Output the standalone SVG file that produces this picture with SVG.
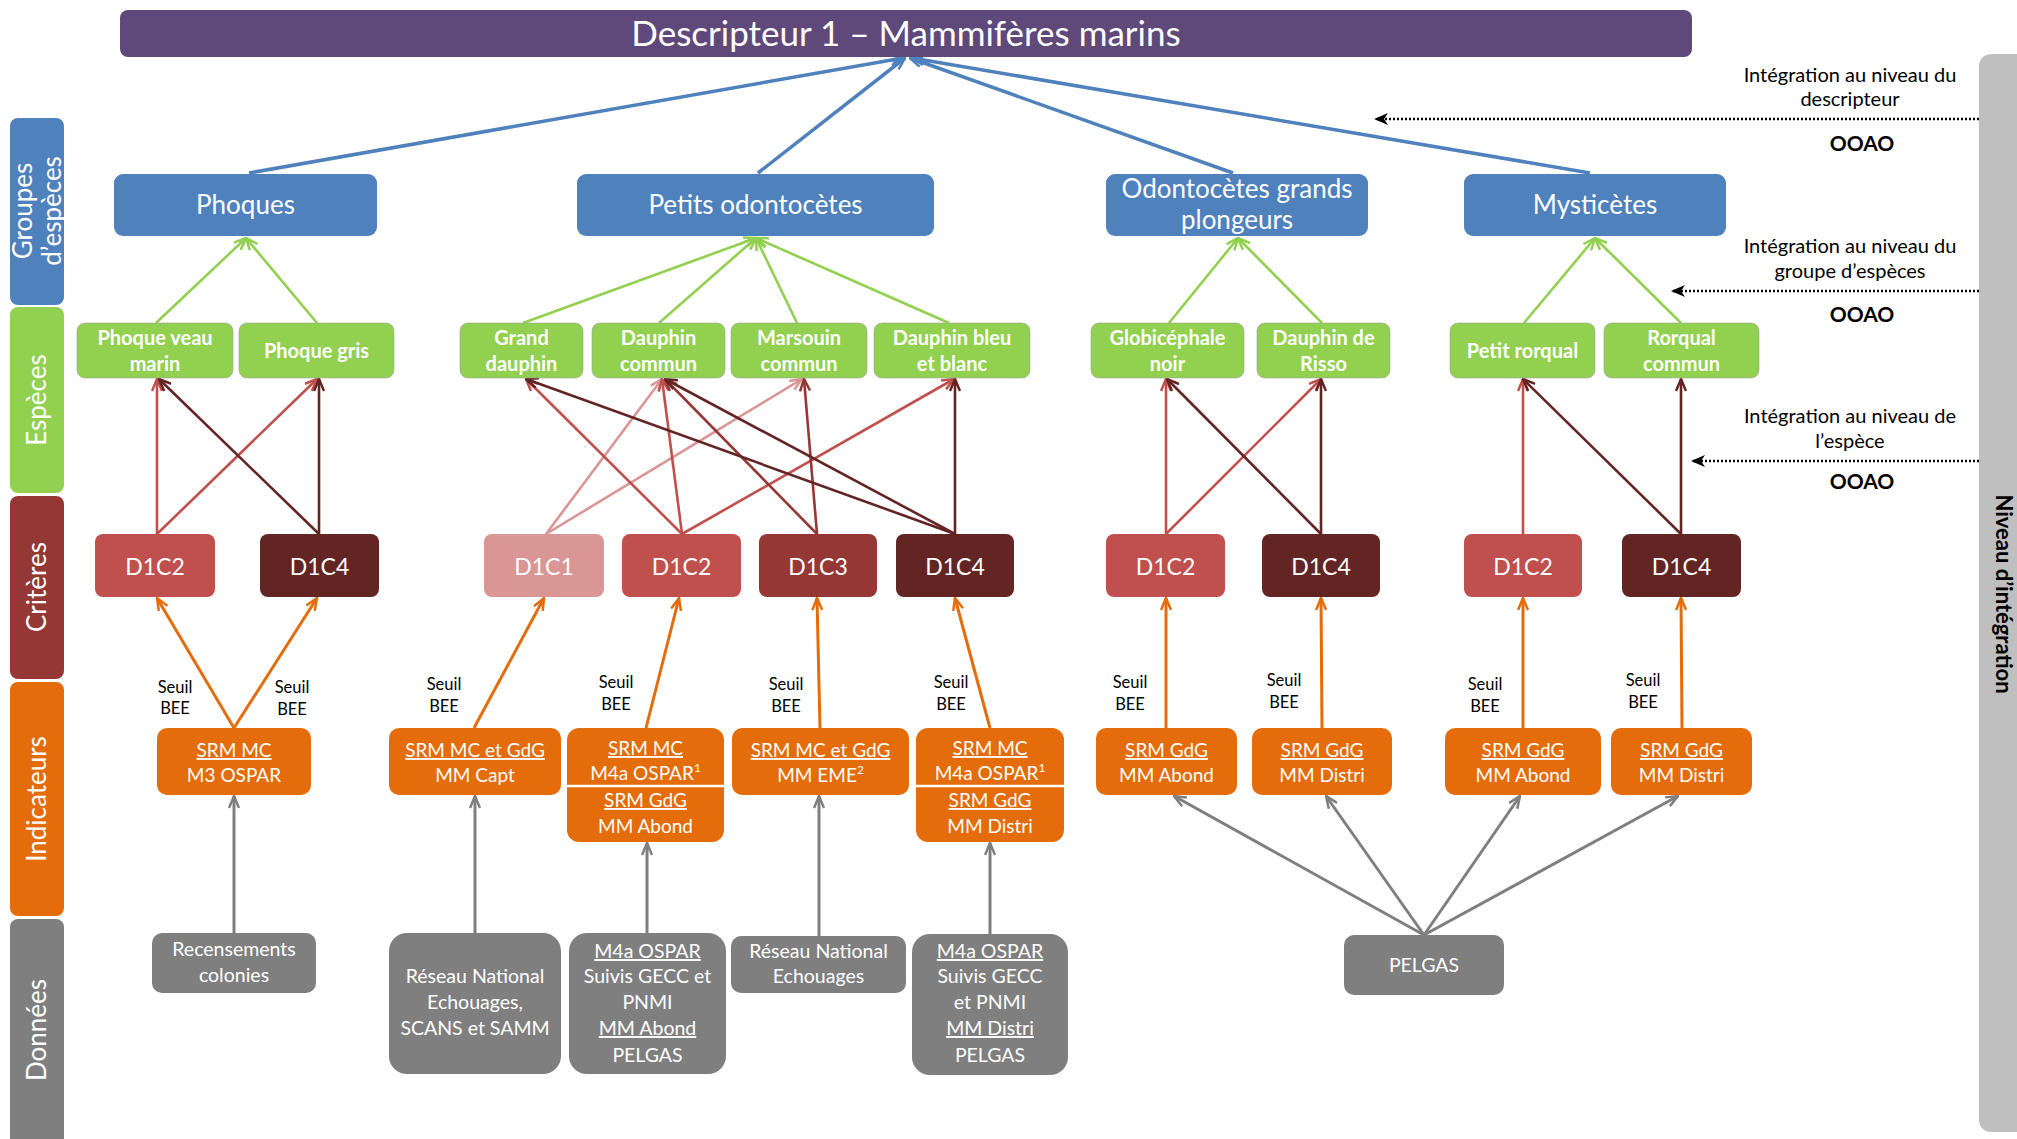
<svg xmlns="http://www.w3.org/2000/svg" width="2017" height="1139" viewBox="0 0 2017 1139">
<style>
text { font-family: Lato, "Liberation Sans", sans-serif; }
.w { fill: #ffffff; }
.m { text-anchor: middle; }
.k { fill: #000000; }
.ttl { font-size: 35px; }
.grp { font-size: 26px; }
.sp { font-size: 20px; font-weight: bold; }
.cr { font-size: 23px; }
.ind { font-size: 19px; }
.dat { font-size: 19.5px; }
.seuil { font-size: 16.5px; }
.ann { font-size: 20px; }
.ooao { font-size: 21px; font-weight: bold; }
.side { font-size: 26px; }
.u { text-decoration: underline; }
.gb { fill: #4f81bd; }
.gs { fill: #92d050; stroke: #a0a0a0; stroke-width: 0.6; }
.c1 { fill: #d99694; }
.c2 { fill: #c0504d; }
.c3 { fill: #953735; }
.c4 { fill: #632523; }
.or { fill: #e46c0a; }
.gr { fill: #7f7f7f; }
.lb { stroke: #4f81bd; stroke-width: 3.5; fill: none; marker-end: url(#mBlue); }
.lg { stroke: #92d050; stroke-width: 2.6; fill: none; marker-end: url(#mGreen); }
.l1 { stroke: #d99694; stroke-width: 2.6; fill: none; marker-end: url(#m1); }
.l2 { stroke: #c0504d; stroke-width: 2.6; fill: none; marker-end: url(#m2); }
.l3 { stroke: #953735; stroke-width: 2.6; fill: none; marker-end: url(#m3); }
.l4 { stroke: #632523; stroke-width: 2.6; fill: none; marker-end: url(#m4); }
.lo { stroke: #e46c0a; stroke-width: 3; fill: none; marker-end: url(#mOr); }
.lgr { stroke: #7f7f7f; stroke-width: 3; fill: none; marker-end: url(#mGr); }
.ld { stroke: #000000; stroke-width: 2.5; stroke-dasharray: 2 2; fill: none; marker-end: url(#mBk); }
</style>
<defs>
<marker id="mBlue" viewBox="0 0 14 12" refX="13" refY="6" markerWidth="14" markerHeight="12" markerUnits="userSpaceOnUse" orient="auto"><path d="M1,1 L13,6 L1,11" fill="none" stroke="#4f81bd" stroke-width="2.5"/></marker>
<marker id="mGreen" viewBox="0 0 14 12" refX="13" refY="6" markerWidth="14" markerHeight="12" markerUnits="userSpaceOnUse" orient="auto"><path d="M1,1 L13,6 L1,11" fill="none" stroke="#92d050" stroke-width="2.5"/></marker>
<marker id="m1" viewBox="0 0 14 12" refX="13" refY="6" markerWidth="14" markerHeight="12" markerUnits="userSpaceOnUse" orient="auto"><path d="M1,1 L13,6 L1,11" fill="none" stroke="#d99694" stroke-width="2.5"/></marker>
<marker id="m2" viewBox="0 0 14 12" refX="13" refY="6" markerWidth="14" markerHeight="12" markerUnits="userSpaceOnUse" orient="auto"><path d="M1,1 L13,6 L1,11" fill="none" stroke="#c0504d" stroke-width="2.5"/></marker>
<marker id="m3" viewBox="0 0 14 12" refX="13" refY="6" markerWidth="14" markerHeight="12" markerUnits="userSpaceOnUse" orient="auto"><path d="M1,1 L13,6 L1,11" fill="none" stroke="#953735" stroke-width="2.5"/></marker>
<marker id="m4" viewBox="0 0 14 12" refX="13" refY="6" markerWidth="14" markerHeight="12" markerUnits="userSpaceOnUse" orient="auto"><path d="M1,1 L13,6 L1,11" fill="none" stroke="#632523" stroke-width="2.5"/></marker>
<marker id="mOr" viewBox="0 0 14 12" refX="13" refY="6" markerWidth="14" markerHeight="12" markerUnits="userSpaceOnUse" orient="auto"><path d="M1,1 L13,6 L1,11" fill="none" stroke="#e46c0a" stroke-width="2.5"/></marker>
<marker id="mGr" viewBox="0 0 14 12" refX="13" refY="6" markerWidth="14" markerHeight="12" markerUnits="userSpaceOnUse" orient="auto"><path d="M1,1 L13,6 L1,11" fill="none" stroke="#7f7f7f" stroke-width="2.5"/></marker>
<marker id="mBk" viewBox="0 0 14 12" refX="13" refY="6" markerWidth="14" markerHeight="12" markerUnits="userSpaceOnUse" orient="auto"><path d="M0,0 L14,6 L0,12 L4,6 z" fill="#000000"/></marker>
</defs>
<rect x="0" y="0" width="2017" height="1139" fill="#ffffff"/>

<!-- Left side level labels -->
<g id="side-labels">
<rect x="10" y="118" width="54" height="187" rx="8" fill="#4f81bd"/>
<rect x="10" y="307" width="54" height="186" rx="8" fill="#92d050"/>
<rect x="10" y="496" width="54" height="183" rx="8" fill="#953735"/>
<rect x="10" y="682" width="54" height="234" rx="8" fill="#e46c0a"/>
<rect x="10" y="919" width="54" height="230" rx="8" fill="#7f7f7f"/>
<text class="side w m" transform="translate(32,211) rotate(-90)">Groupes</text>
<text class="side w m" transform="translate(61,211) rotate(-90)">d’espèces</text>
<text class="side w m" transform="translate(46,400) rotate(-90)">Espèces</text>
<text class="side w m" transform="translate(46,587) rotate(-90)">Critères</text>
<text class="side w m" transform="translate(46,799) rotate(-90)">Indicateurs</text>
<text class="side w m" transform="translate(46,1030) rotate(-90)">Données</text>
</g>

<!-- Right integration bar -->
<g id="integration-bar">
<rect x="1979" y="54" width="60" height="1078" rx="12" fill="#bfbfbf"/>
<text class="k m" font-size="22" font-weight="bold" transform="translate(1996,594) rotate(90)">Niveau d’intégration</text>
</g>

<!-- Connectors -->
<g id="connectors">
<line class="lb" x1="249" y1="173" x2="903" y2="58"/>
<line class="lb" x1="758" y1="173" x2="905" y2="58"/>
<line class="lb" x1="1233" y1="173" x2="910" y2="58"/>
<line class="lb" x1="1590" y1="173" x2="912" y2="58"/>

<line class="lg" x1="156" y1="323" x2="246" y2="238"/>
<line class="lg" x1="317" y1="323" x2="246" y2="238"/>
<line class="lg" x1="523" y1="323" x2="756" y2="238"/>
<line class="lg" x1="659" y1="323" x2="756" y2="238"/>
<line class="lg" x1="797" y1="323" x2="756" y2="238"/>
<line class="lg" x1="949" y1="323" x2="756" y2="238"/>
<line class="lg" x1="1169" y1="323" x2="1238" y2="238"/>
<line class="lg" x1="1322" y1="323" x2="1238" y2="238"/>
<line class="lg" x1="1524" y1="323" x2="1595" y2="238"/>
<line class="lg" x1="1681" y1="323" x2="1595" y2="238"/>

<line class="l2" x1="157" y1="534" x2="157" y2="379"/>
<line class="l2" x1="157" y1="534" x2="317" y2="379"/>
<line class="l4" x1="319" y1="534" x2="319" y2="379"/>
<line class="l4" x1="319" y1="534" x2="159" y2="379"/>

<line class="l1" x1="546" y1="534" x2="662" y2="379"/>
<line class="l1" x1="546" y1="534" x2="802" y2="379"/>
<line class="l2" x1="682" y1="534" x2="526" y2="379"/>
<line class="l2" x1="682" y1="534" x2="662" y2="379"/>
<line class="l2" x1="682" y1="534" x2="954" y2="379"/>
<line class="l3" x1="817" y1="534" x2="665" y2="379"/>
<line class="l3" x1="817" y1="534" x2="804" y2="379"/>
<line class="l4" x1="955" y1="534" x2="526" y2="379"/>
<line class="l4" x1="955" y1="534" x2="665" y2="379"/>
<line class="l4" x1="955" y1="534" x2="955" y2="379"/>

<line class="l2" x1="1166" y1="534" x2="1166" y2="379"/>
<line class="l2" x1="1166" y1="534" x2="1321" y2="379"/>
<line class="l4" x1="1321" y1="534" x2="1321" y2="379"/>
<line class="l4" x1="1321" y1="534" x2="1167" y2="379"/>
<line class="l2" x1="1523" y1="534" x2="1523" y2="379"/>
<line class="l4" x1="1681" y1="534" x2="1681" y2="379"/>
<line class="l4" x1="1681" y1="534" x2="1523" y2="379"/>

<line class="lo" x1="234" y1="728" x2="157" y2="598"/>
<line class="lo" x1="234" y1="728" x2="317" y2="598"/>
<line class="lo" x1="474" y1="728" x2="544" y2="598"/>
<line class="lo" x1="646" y1="728" x2="679" y2="598"/>
<line class="lo" x1="820" y1="728" x2="817" y2="598"/>
<line class="lo" x1="990" y1="728" x2="955" y2="598"/>
<line class="lo" x1="1166" y1="728" x2="1166" y2="598"/>
<line class="lo" x1="1322" y1="728" x2="1321" y2="598"/>
<line class="lo" x1="1523" y1="728" x2="1523" y2="598"/>
<line class="lo" x1="1682" y1="728" x2="1681" y2="598"/>

<line class="lgr" x1="234" y1="933" x2="234" y2="796"/>
<line class="lgr" x1="475" y1="933" x2="475" y2="796"/>
<line class="lgr" x1="647" y1="933" x2="647" y2="843"/>
<line class="lgr" x1="819" y1="936" x2="819" y2="796"/>
<line class="lgr" x1="990" y1="934" x2="990" y2="843"/>
<line class="lgr" x1="1424" y1="935" x2="1174" y2="796"/>
<line class="lgr" x1="1424" y1="935" x2="1326" y2="796"/>
<line class="lgr" x1="1424" y1="935" x2="1520" y2="796"/>
<line class="lgr" x1="1424" y1="935" x2="1678" y2="796"/>

<line class="ld" x1="1979" y1="119" x2="1375" y2="119"/>
<line class="ld" x1="1979" y1="291" x2="1672" y2="291"/>
<line class="ld" x1="1979" y1="461" x2="1692" y2="461"/>
</g>

<!-- Integration annotations -->
<g id="annotations">
<text class="ann k m" x="1850" y="82">Intégration au niveau du</text>
<text class="ann k m" x="1850" y="106">descripteur</text>
<text class="ooao k m" x="1862" y="151">OOAO</text>
<text class="ann k m" x="1850" y="253">Intégration au niveau du</text>
<text class="ann k m" x="1850" y="278">groupe d’espèces</text>
<text class="ooao k m" x="1862" y="322">OOAO</text>
<text class="ann k m" x="1850" y="423">Intégration au niveau de</text>
<text class="ann k m" x="1850" y="448">l’espèce</text>
<text class="ooao k m" x="1862" y="489">OOAO</text>
</g>

<!-- Title -->
<g id="title">
<rect x="120" y="10" width="1572" height="47" rx="8" fill="#5f497a"/>
<text class="ttl w m" x="906" y="46">Descripteur 1 – Mammifères marins</text>
</g>

<!-- Species groups -->
<g id="grp-phoques"><rect class="gb" x="114" y="174" width="263" height="62" rx="9"/><text class="grp w m" x="245.5" y="214">Phoques</text></g>
<g id="grp-petits"><rect class="gb" x="577" y="174" width="357" height="62" rx="9"/><text class="grp w m" x="755.5" y="214">Petits odontocètes</text></g>
<g id="grp-grands"><rect class="gb" x="1106" y="174" width="262" height="62" rx="9"/><text class="grp w m" x="1237" y="198">Odontocètes grands</text><text class="grp w m" x="1237" y="229">plongeurs</text></g>
<g id="grp-mysticetes"><rect class="gb" x="1464" y="174" width="262" height="62" rx="9"/><text class="grp w m" x="1595" y="214">Mysticètes</text></g>

<!-- Species -->
<g id="sp-phoque-veau"><rect class="gs" x="77" y="323" width="156" height="55" rx="8"/><text class="sp w m" x="155" y="345">Phoque veau</text><text class="sp w m" x="155" y="371">marin</text></g>
<g id="sp-phoque-gris"><rect class="gs" x="239" y="323" width="155" height="55" rx="8"/><text class="sp w m" x="316.5" y="358">Phoque gris</text></g>
<g id="sp-grand-dauphin"><rect class="gs" x="460" y="323" width="123" height="55" rx="8"/><text class="sp w m" x="521.5" y="345">Grand</text><text class="sp w m" x="521.5" y="371">dauphin</text></g>
<g id="sp-dauphin-commun"><rect class="gs" x="592" y="323" width="133" height="55" rx="8"/><text class="sp w m" x="658.5" y="345">Dauphin</text><text class="sp w m" x="658.5" y="371">commun</text></g>
<g id="sp-marsouin"><rect class="gs" x="731" y="323" width="136" height="55" rx="8"/><text class="sp w m" x="799" y="345">Marsouin</text><text class="sp w m" x="799" y="371">commun</text></g>
<g id="sp-dauphin-bleu"><rect class="gs" x="874" y="323" width="156" height="55" rx="8"/><text class="sp w m" x="952" y="345">Dauphin bleu</text><text class="sp w m" x="952" y="371">et blanc</text></g>
<g id="sp-globicephale"><rect class="gs" x="1091" y="323" width="153" height="55" rx="8"/><text class="sp w m" x="1167.5" y="345">Globicéphale</text><text class="sp w m" x="1167.5" y="371">noir</text></g>
<g id="sp-risso"><rect class="gs" x="1257" y="323" width="133" height="55" rx="8"/><text class="sp w m" x="1323.5" y="345">Dauphin de</text><text class="sp w m" x="1323.5" y="371">Risso</text></g>
<g id="sp-petit-rorqual"><rect class="gs" x="1450" y="323" width="145" height="55" rx="8"/><text class="sp w m" x="1522.5" y="358">Petit rorqual</text></g>
<g id="sp-rorqual-commun"><rect class="gs" x="1604" y="323" width="155" height="55" rx="8"/><text class="sp w m" x="1681.5" y="345">Rorqual</text><text class="sp w m" x="1681.5" y="371">commun</text></g>

<!-- Criteria -->
<g id="cr-phoques-d1c2"><rect class="c2" x="95" y="534" width="120" height="63" rx="8"/><text class="cr w m" x="155" y="575">D1C2</text></g>
<g id="cr-phoques-d1c4"><rect class="c4" x="260" y="534" width="119" height="63" rx="8"/><text class="cr w m" x="319.5" y="575">D1C4</text></g>
<g id="cr-petits-d1c1"><rect class="c1" x="484" y="534" width="120" height="63" rx="8"/><text class="cr w m" x="544" y="575">D1C1</text></g>
<g id="cr-petits-d1c2"><rect class="c2" x="622" y="534" width="119" height="63" rx="8"/><text class="cr w m" x="681.5" y="575">D1C2</text></g>
<g id="cr-petits-d1c3"><rect class="c3" x="759" y="534" width="118" height="63" rx="8"/><text class="cr w m" x="818" y="575">D1C3</text></g>
<g id="cr-petits-d1c4"><rect class="c4" x="896" y="534" width="118" height="63" rx="8"/><text class="cr w m" x="955" y="575">D1C4</text></g>
<g id="cr-grands-d1c2"><rect class="c2" x="1106" y="534" width="119" height="63" rx="8"/><text class="cr w m" x="1165.5" y="575">D1C2</text></g>
<g id="cr-grands-d1c4"><rect class="c4" x="1262" y="534" width="118" height="63" rx="8"/><text class="cr w m" x="1321" y="575">D1C4</text></g>
<g id="cr-myst-d1c2"><rect class="c2" x="1464" y="534" width="118" height="63" rx="8"/><text class="cr w m" x="1523" y="575">D1C2</text></g>
<g id="cr-myst-d1c4"><rect class="c4" x="1622" y="534" width="119" height="63" rx="8"/><text class="cr w m" x="1681.5" y="575">D1C4</text></g>

<!-- Seuil BEE labels -->
<g id="seuil-labels">
<text class="seuil k m" x="175" y="693">Seuil</text><text class="seuil k m" x="175" y="714">BEE</text>
<text class="seuil k m" x="292" y="693">Seuil</text><text class="seuil k m" x="292" y="715">BEE</text>
<text class="seuil k m" x="444" y="690">Seuil</text><text class="seuil k m" x="444" y="712">BEE</text>
<text class="seuil k m" x="616" y="688">Seuil</text><text class="seuil k m" x="616" y="710">BEE</text>
<text class="seuil k m" x="786" y="690">Seuil</text><text class="seuil k m" x="786" y="712">BEE</text>
<text class="seuil k m" x="951" y="688">Seuil</text><text class="seuil k m" x="951" y="710">BEE</text>
<text class="seuil k m" x="1130" y="688">Seuil</text><text class="seuil k m" x="1130" y="710">BEE</text>
<text class="seuil k m" x="1284" y="686">Seuil</text><text class="seuil k m" x="1284" y="708">BEE</text>
<text class="seuil k m" x="1485" y="690">Seuil</text><text class="seuil k m" x="1485" y="712">BEE</text>
<text class="seuil k m" x="1643" y="686">Seuil</text><text class="seuil k m" x="1643" y="708">BEE</text>
</g>

<!-- Indicators -->
<g id="ind-m3"><rect class="or" x="157" y="728" width="154" height="67" rx="10"/><text class="ind w m u" x="234" y="757">SRM MC</text><text class="ind w m" x="234" y="782">M3 OSPAR</text></g>
<g id="ind-capt"><rect class="or" x="389" y="728" width="172" height="67" rx="10"/><text class="ind w m u" x="475" y="757">SRM MC et GdG</text><text class="ind w m" x="475" y="782">MM Capt</text></g>
<g id="ind-abond-1"><rect class="or" x="567" y="728" width="157" height="114" rx="12"/><text class="ind w m u" x="645.5" y="755">SRM MC</text><text class="ind w m" x="645.5" y="780">M4a OSPAR<tspan font-size="12" dy="-8">1</tspan></text><line x1="567" y1="786" x2="724" y2="786" stroke="#ffffff" stroke-width="2.5"/><text class="ind w m u" x="645.5" y="807">SRM GdG</text><text class="ind w m" x="645.5" y="833">MM Abond</text></g>
<g id="ind-eme"><rect class="or" x="732" y="728" width="177" height="67" rx="10"/><text class="ind w m u" x="820.5" y="757">SRM MC et GdG</text><text class="ind w m" x="820.5" y="782">MM EME<tspan font-size="12" dy="-8">2</tspan></text></g>
<g id="ind-distri-1"><rect class="or" x="916" y="728" width="148" height="114" rx="12"/><text class="ind w m u" x="990" y="755">SRM MC</text><text class="ind w m" x="990" y="780">M4a OSPAR<tspan font-size="12" dy="-8">1</tspan></text><line x1="916" y1="786" x2="1064" y2="786" stroke="#ffffff" stroke-width="2.5"/><text class="ind w m u" x="990" y="807">SRM GdG</text><text class="ind w m" x="990" y="833">MM Distri</text></g>
<g id="ind-gdg-abond-1"><rect class="or" x="1096" y="728" width="141" height="67" rx="10"/><text class="ind w m u" x="1166.5" y="757">SRM GdG</text><text class="ind w m" x="1166.5" y="782">MM Abond</text></g>
<g id="ind-gdg-distri-1"><rect class="or" x="1252" y="728" width="140" height="67" rx="10"/><text class="ind w m u" x="1322" y="757">SRM GdG</text><text class="ind w m" x="1322" y="782">MM Distri</text></g>
<g id="ind-gdg-abond-2"><rect class="or" x="1445" y="728" width="156" height="67" rx="10"/><text class="ind w m u" x="1523" y="757">SRM GdG</text><text class="ind w m" x="1523" y="782">MM Abond</text></g>
<g id="ind-gdg-distri-2"><rect class="or" x="1611" y="728" width="141" height="67" rx="10"/><text class="ind w m u" x="1681.5" y="757">SRM GdG</text><text class="ind w m" x="1681.5" y="782">MM Distri</text></g>

<!-- Data -->
<g id="dat-recensements"><rect class="gr" x="152" y="933" width="164" height="60" rx="10"/><text class="dat w m" x="234" y="956">Recensements</text><text class="dat w m" x="234" y="982">colonies</text></g>
<g id="dat-rne-scans"><rect class="gr" x="389" y="933" width="172" height="141" rx="18"/><text class="dat w m" x="475" y="983">Réseau National</text><text class="dat w m" x="475" y="1009">Echouages,</text><text class="dat w m" x="475" y="1035">SCANS et SAMM</text></g>
<g id="dat-m4a-abond"><rect class="gr" x="569" y="933" width="157" height="141" rx="18"/><text class="dat w m u" x="647.5" y="958">M4a OSPAR</text><text class="dat w m" x="647.5" y="983">Suivis GECC et</text><text class="dat w m" x="647.5" y="1009">PNMI</text><text class="dat w m u" x="647.5" y="1035">MM Abond</text><text class="dat w m" x="647.5" y="1062">PELGAS</text></g>
<g id="dat-rne"><rect class="gr" x="731" y="936" width="175" height="57" rx="10"/><text class="dat w m" x="818.5" y="958">Réseau National</text><text class="dat w m" x="818.5" y="983">Echouages</text></g>
<g id="dat-m4a-distri"><rect class="gr" x="912" y="934" width="156" height="141" rx="18"/><text class="dat w m u" x="990" y="958">M4a OSPAR</text><text class="dat w m" x="990" y="983">Suivis GECC</text><text class="dat w m" x="990" y="1009">et PNMI</text><text class="dat w m u" x="990" y="1035">MM Distri</text><text class="dat w m" x="990" y="1062">PELGAS</text></g>
<g id="dat-pelgas"><rect class="gr" x="1344" y="935" width="160" height="60" rx="10"/><text class="dat w m" x="1424" y="972">PELGAS</text></g>
</svg>
